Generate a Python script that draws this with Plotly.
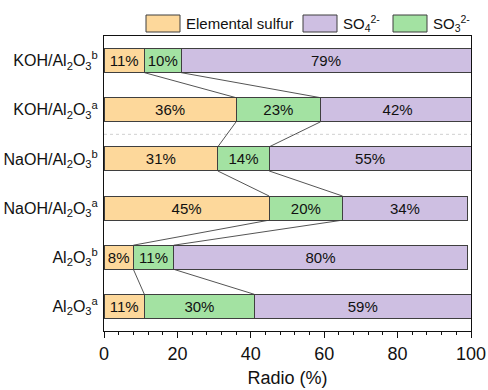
import plotly.graph_objects as go

# Samples, listed bottom to top
samples = [
    "Al<sub>2</sub>O<sub>3</sub><sup>a</sup>",
    "Al<sub>2</sub>O<sub>3</sub><sup>b</sup>",
    "NaOH/Al<sub>2</sub>O<sub>3</sub><sup>a</sup>",
    "NaOH/Al<sub>2</sub>O<sub>3</sub><sup>b</sup>",
    "KOH/Al<sub>2</sub>O<sub>3</sub><sup>a</sup>",
    "KOH/Al<sub>2</sub>O<sub>3</sub><sup>b</sup>",
]
elemental_sulfur = [11, 8, 45, 31, 36, 11]
sulfite = [30, 11, 20, 14, 23, 10]
sulfate = [59, 80, 34, 55, 42, 79]

x_ticks = [0, 20, 40, 60, 80, 100]

C_S = "#FDD89B"
C_SO4 = "#CEBFE2"
C_SO3 = "#A3E2A2"
EDGE = "#3f3f3f"
FONT = "Liberation Sans, Arial, sans-serif"

W, H = 488, 390
L, R, T, B = 104, 17, 36, 59
BAR_W = 0.49

fig = go.Figure()


def add_series(name, vals, color):
    fig.add_trace(go.Bar(
        y=samples, x=vals, name=name, orientation="h", width=BAR_W,
        marker=dict(color=color, line=dict(color=EDGE, width=1)),
        text=[f"{v}%" for v in vals], textposition="inside",
        insidetextanchor="middle", textangle=0,
        textfont=dict(size=15, color="#111111", family=FONT),
        showlegend=False, hoverinfo="x+name",
    ))


add_series("Elemental sulfur", elemental_sulfur, C_S)
add_series("SO3 2-", sulfite, C_SO3)
add_series("SO4 2-", sulfate, C_SO4)

shapes = []
# Connector lines joining the segment boundaries of neighbouring bars
b1 = elemental_sulfur
b2 = [a + b for a, b in zip(elemental_sulfur, sulfite)]
half = BAR_W / 2
for i in range(len(samples) - 1):
    for bounds in (b1, b2):
        shapes.append(dict(
            type="line", xref="x", yref="y",
            x0=bounds[i + 1], y0=i + 1 - half, x1=bounds[i], y1=i + half,
            line=dict(color="#555555", width=1), layer="below",
        ))

# Dotted separator between KOH and NaOH groups
shapes.append(dict(type="line", xref="paper", yref="y", x0=0, x1=1, y0=3.5, y1=3.5,
                   line=dict(color="#d0d0d0", width=1, dash="dot"), layer="below"))

# Hand-drawn legend above the plot
pw, ph = W - L - R, H - T - B


def px(xp):
    return (xp - L) / pw


def py(yp):
    return (H - B - yp) / ph


legend_items = [
    (146, C_S, "Elemental sulfur"),
    (303, C_SO4, "SO<sub>4</sub><sup>2-</sup>"),
    (393, C_SO3, "SO<sub>3</sub><sup>2-</sup>"),
]
annotations = []
for x0, col, label in legend_items:
    shapes.append(dict(type="rect", xref="paper", yref="paper",
                       x0=px(x0), x1=px(x0 + 34), y0=py(32), y1=py(15),
                       fillcolor=col, line=dict(color=EDGE, width=1)))
    annotations.append(dict(xref="paper", yref="paper", x=px(x0 + 38), y=py(23.5),
                            text=label, showarrow=False, xanchor="left", yanchor="middle",
                            font=dict(size=15, color="#111111", family=FONT)))

fig.update_layout(
    width=W, height=H, barmode="stack",
    margin=dict(l=L, r=R, t=T, b=B, pad=0, autoexpand=False),
    paper_bgcolor="white", plot_bgcolor="white",
    font=dict(family=FONT, color="#111111"),
    shapes=shapes, annotations=annotations,
    showlegend=False,
    uniformtext=dict(minsize=15, mode="show"),
    xaxis=dict(
        range=[0, 100], tickvals=x_ticks, ticks="outside", ticklen=6, tickwidth=1,
        tickcolor="#111111", minor=dict(dtick=4, ticks="outside", ticklen=3, tickcolor="#111111"),
        showline=True, linecolor="#111111", linewidth=1, mirror=True, showgrid=False,
        zeroline=False, automargin=False, tickfont=dict(size=18, family=FONT, color="#111111"),
        title=dict(text="Radio (%)", font=dict(size=18, family=FONT, color="#111111"), standoff=8),
    ),
    yaxis=dict(
        categoryorder="array", categoryarray=samples, range=[-0.5, 5.5],
        showline=True, linecolor="#111111", linewidth=1, mirror=True, showgrid=False,
        automargin=False, ticks="", ticklabelstandoff=2,
        tickfont=dict(size=16, family=FONT, color="#111111"),
    ),
)

fig.write_html("out.html")
